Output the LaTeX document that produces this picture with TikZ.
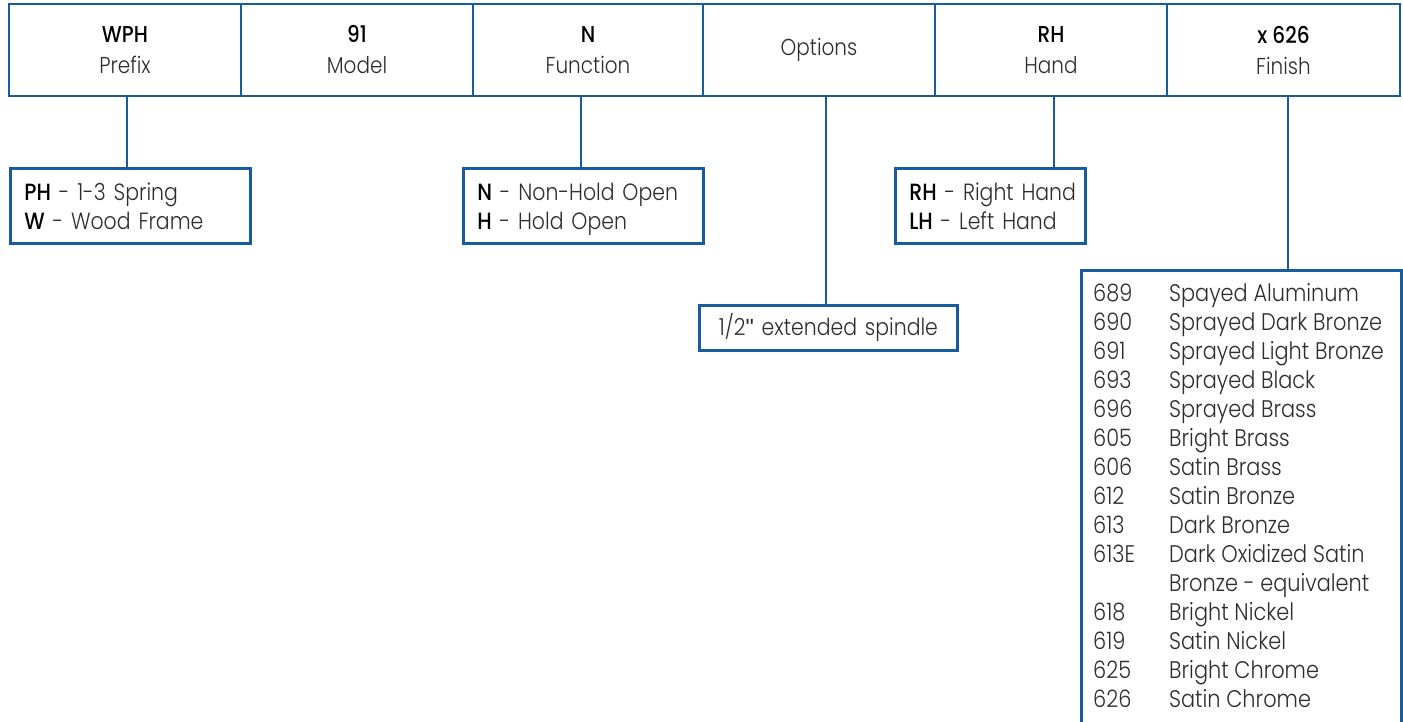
\documentclass[tikz,border=0pt]{standalone}
\usepackage{fontspec}
\setmainfont{Poppins}[UprightFont=* Light, BoldFont=* Medium, FakeStretch=0.87]
\newfontfamily\qfont{Liberation Sans}
\definecolor{bl}{RGB}{22,92,158}
\definecolor{tx}{RGB}{45,45,45}
\newcommand{\bk}[1]{{\bfseries\color{black}#1}}
\newcommand{\mydepth}{\vphantom{gp}}
\newcommand{\mytop}{\rule{0pt}{25pt}}
\begin{document}
\begin{tikzpicture}[x=1pt,y=-1pt,
  frame/.style={draw=bl, line width=2.8pt},
  topbox/.style={frame, minimum height=92pt, inner sep=0pt, align=center, text=tx,
    font=\fontsize{23}{31}\selectfont},
  subbox/.style={frame, anchor=north west, inner xsep=14pt, inner ysep=0pt, align=left, text=tx,
    minimum height=75pt, font=\fontsize{23.5}{29}\selectfont},
  link/.style={draw=bl, line width=2.8pt}]
\useasboundingbox (0,0) rectangle (1403,721);
% top row
\node[topbox, minimum width=232pt] (pre) at (125,50) {\bk{WPH}\\Prefix};
\node[topbox, minimum width=232pt] (mod) at (357,50) {\bk{91}\\Model};
\node[topbox, minimum width=230pt] (fun) at (588,50) {\bk{N}\\Function};
\node[topbox, minimum width=232pt] (opt) at (819,50) {Options};
\node[topbox, minimum width=232pt] (han) at (1051,50) {\bk{RH}\\Hand};
\node[topbox, minimum width=233pt] (fin) at (1283.5,50) {\bk{x 626}\\Finish};
% sub boxes
\node[subbox, minimum width=240pt, text width=212pt] (pres) at (9,167)
  {\mytop\bk{PH} - 1-3 Spring\\\bk{W} - Wood Frame\mydepth};
\node[subbox, minimum width=240pt, text width=212pt] (funs) at (462,167)
  {\mytop\bk{N} - Non-Hold Open\\\bk{H} - Hold Open\mydepth};
\node[subbox, minimum width=190pt, text width=162pt] (hans) at (894,167)
  {\mytop\mbox{\bk{RH} - Right Hand}\\\mbox{\bk{LH} - Left Hand}\mydepth};
\node[subbox, minimum width=258pt, minimum height=45pt, text width=230pt, align=center] (opts) at (698,304)
  {1/2{\qfont\char34} extended spindle};
\node[frame, anchor=north west, minimum width=320pt, minimum height=470pt, inner sep=0pt] (fins) at (1080,269) {};
\node[anchor=north west, align=left, inner sep=0pt, text=tx, font=\fontsize{24}{29}\selectfont] (finl) at (1093,283)
{\makebox[76pt][l]{689}Spayed Aluminum\\
\makebox[76pt][l]{690}Sprayed Dark Bronze\\
\makebox[76pt][l]{691}Sprayed Light Bronze\\
\makebox[76pt][l]{693}Sprayed Black\\
\makebox[76pt][l]{696}Sprayed Brass\\
\makebox[76pt][l]{605}Bright Brass\\
\makebox[76pt][l]{606}Satin Brass\\
\makebox[76pt][l]{612}Satin Bronze\\
\makebox[76pt][l]{613}Dark Bronze\\
\makebox[76pt][l]{613E}Dark Oxidized Satin\\
\makebox[76pt][l]{}Bronze - equivalent\\
\makebox[76pt][l]{618}Bright Nickel\\
\makebox[76pt][l]{619}Satin Nickel\\
\makebox[76pt][l]{625}Bright Chrome\\
\makebox[76pt][l]{626}Satin Chrome};
% connectors
\draw[link] ([xshift=2pt]pre.south) -- ([xshift=2pt]pre.south |- pres.north);
\draw[link] ([xshift=-7pt]fun.south) -- ([xshift=-7pt]fun.south |- funs.north);
\draw[link] ([xshift=7pt]opt.south) -- ([xshift=7pt]opt.south |- opts.north);
\draw[link] ([xshift=3pt]han.south) -- ([xshift=3pt]han.south |- hans.north);
\draw[link] ([xshift=4.5pt]fin.south) -- ([xshift=4.5pt]fin.south |- fins.north);
\end{tikzpicture}
\end{document}
